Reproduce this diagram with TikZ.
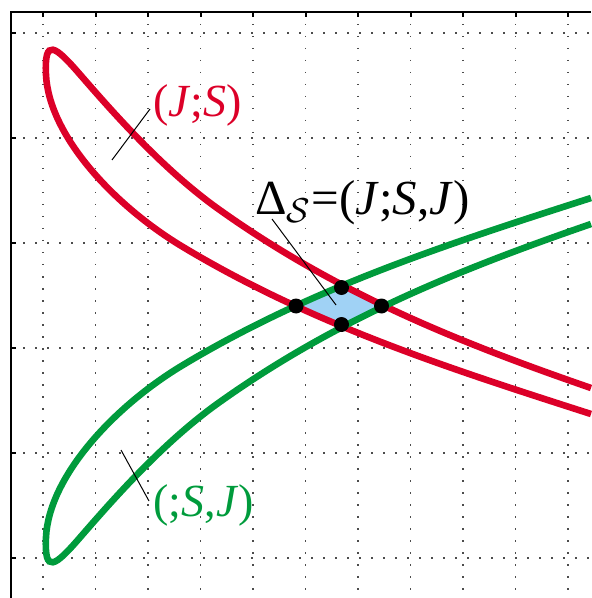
\documentclass[tikz,border=0pt]{standalone}
\usepackage{fontspec}
\setmainfont{Liberation Serif}
\usetikzlibrary{positioning}
\definecolor{lobered}{RGB}{220,0,40}
\definecolor{lobegreen}{RGB}{0,155,60}
\definecolor{diamblue}{RGB}{160,210,245}
% one lobe: upper branch in, round the tip, lower branch out
\newcommand{\lobe}{(591,388) .. controls (461,343) and (337,294) .. (217,208)
  .. controls (162,168.4) and (112.8,112.25) .. (80,74.5)
  .. controls (55.1,45.8) and (44.1,37) .. (46,75)
  .. controls (49,135) and (113,205) .. (183,247)
  .. controls (313,325) and (451,369) .. (591,414)}

\begin{document}
\begin{tikzpicture}[x=0.5pt, y=-0.5pt,
  grd/.style={black!70, line width=0.75pt, dash pattern=on 0.75pt off 5.25pt},
  ax/.style={black, line width=1pt},
  curve/.style={line width=3.3pt},
  lead/.style={black, line width=0.5pt},
  vtx/.style={circle, fill=black, inner sep=0pt, minimum size=7.5pt},
  lab/.style={anchor=base west, inner sep=0pt, font=\fontsize{23}{27}\selectfont},
  mirror/.style={shift={(0,612)}, yscale=-1}
]
\useasboundingbox (0,0) rectangle (591,598);
% grid
\foreach \gx in {0,...,10}
  \draw[grd] ({43+52.5*\gx},12) -- ({43+52.5*\gx},598);
\foreach \gy in {0,...,5}
  \draw[grd] (11,{33+105*\gy}) -- (591,{33+105*\gy});
% axes
\draw[ax] (11,598) -- (11,12) -- (591,12);
\foreach \gx in {0,...,10}
  \draw[ax] ({43+52.5*\gx},12) -- ++(0,5);
\foreach \gy in {0,...,5}
  \draw[ax] (11,{33+105*\gy}) -- ++(5,0);
% overlap of the two lobes
\begin{scope}
  \clip[mirror] \lobe -- cycle;
  \fill[diamblue] \lobe -- cycle;
\end{scope}
\draw[curve, lobered] \lobe;
\draw[curve, lobegreen, mirror] \lobe;
% labels
\node[lab, lobered] (rl) at (153,117) {(\textit{J};\textit{S})};
\node[lab, lobegreen] (gl) at (153,516) {(;\textit{S},\textit{J})};
\node[lab, font=\fontsize{24.5}{28}\selectfont] (dl) at (255,215)
  {Δ$_{\mathcal{S}}$=(\textit{J};\textit{S},\textit{J})};
\coordinate (rp) at (112,160);
\coordinate (rq) at (150,109);
\coordinate (gp) at (121,450);
\coordinate (gq) at (149,501);
\coordinate (dp) at (272,219);
\coordinate (dq) at (336,305);
\draw[lead] (rp) -- (rq);
\draw[lead] (gp) -- (gq);
\draw[lead] (dp) -- (dq);
% intersection points
\node[vtx] (vl) at (296,306) {};
\node[vtx] (vt) at (341.5,287.5) {};
\node[vtx] (vr) at (381.5,306) {};
\node[vtx] (vb) at (341.5,324.5) {};
\end{tikzpicture}
\end{document}
